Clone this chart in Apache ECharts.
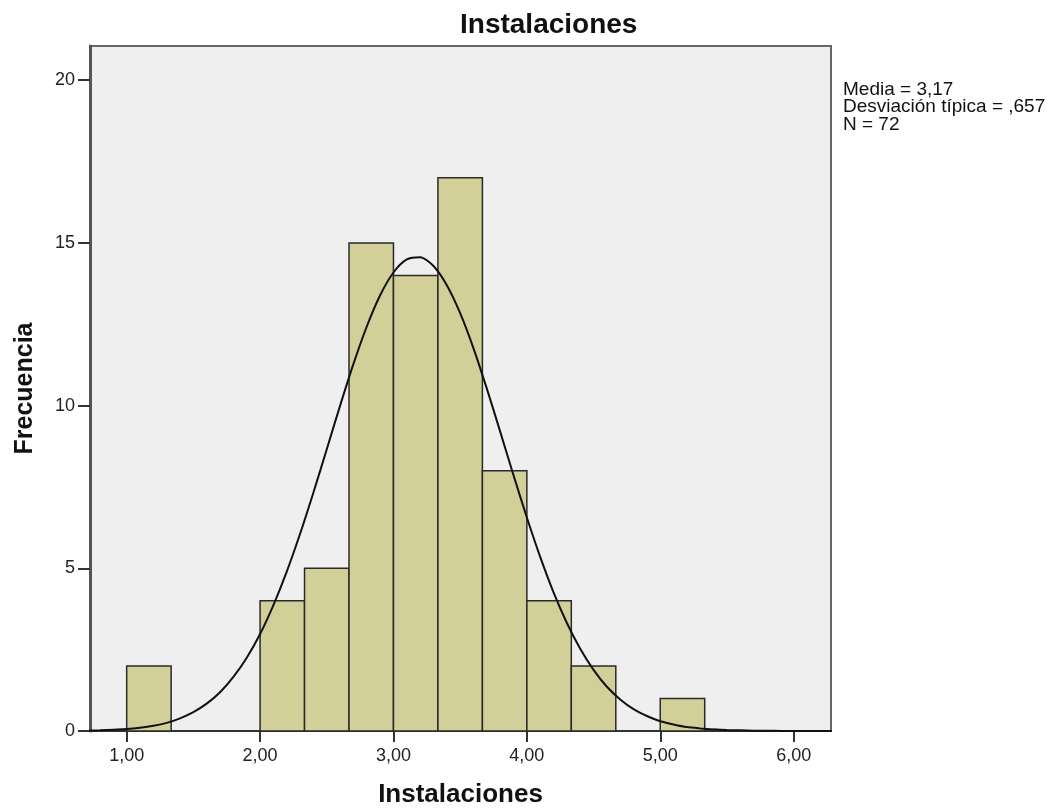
<!DOCTYPE html>
<html>
<head>
<meta charset="utf-8">
<script src="https://cdn.jsdelivr.net/npm/echarts@6/dist/echarts.min.js"></script>
<style>
html,body{margin:0;padding:0;background:#fff;}
#chart{width:1056px;height:808px;}
</style>
</head>
<body>
<div id="chart"></div>
<script>
// Histogram bins (bin width 1/3)
const binStarts = [1.0, 2.0, 2.3333, 2.6667, 3.0, 3.3333, 3.6667, 4.0, 4.3333, 5.0];
const binEnds   = [1.3333, 2.3333, 2.6667, 3.0, 3.3333, 3.6667, 4.0, 4.3333, 4.6667, 5.3333];
const counts    = [2, 4, 5, 15, 14, 17, 8, 4, 2, 1];

// Normal curve
const curveX = [0.7,0.8,0.9,1.0,1.1,1.2,1.3,1.4,1.5,1.6,1.7,1.8,1.9,2.0,2.1,2.2,2.3,2.4,2.5,2.6,2.7,2.8,2.9,3.0,3.1,3.2,3.3,3.4,3.5,3.6,3.7,3.8,3.9,4.0,4.1,4.2,4.3,4.4,4.5,4.6,4.7,4.8,4.9,5.0,5.1,5.2,5.3,5.4,5.5,5.6,5.7,5.8,5.9,6.0,6.1,6.2,6.3];
const curveY = [0.01,0.02,0.04,0.06,0.10,0.16,0.25,0.39,0.58,0.84,1.19,1.66,2.25,2.98,3.87,4.90,6.06,7.33,8.66,10.00,11.28,12.43,13.39,14.09,14.49,14.56,14.29,13.70,12.84,11.76,10.52,9.20,7.86,6.56,5.35,4.26,3.32,2.53,1.88,1.36,0.97,0.67,0.46,0.30,0.20,0.12,0.08,0.05,0.03,0.02,0.01,0.005,0.003,0.001,0.001,0,0];

const xTicks = [1, 2, 3, 4, 5, 6];
const yTicks = [0, 5, 10, 15, 20];
const statLines = ['Media = 3,17', 'Desviación típica = ,657', 'N = 72'];

const FONT = '"Liberation Sans", Arial, sans-serif';
const chart = echarts.init(document.getElementById('chart'), null, {renderer: 'canvas'});

const barData = binStarts.map((s, i) => [s, binEnds[i], counts[i]]);
const curveData = curveX.map((x, i) => [x, curveY[i]]);

chart.setOption({
  animation: false,
  backgroundColor: '#ffffff',
  title: {
    text: 'Instalaciones',
    left: 455, top: 6,
    textStyle: {fontFamily: FONT, fontSize: 28, fontWeight: 'bold', color: '#111'}
  },
  grid: {
    left: 90, right: 225, top: 46, bottom: 77,
    outerBoundsMode: 'none', containLabel: false,
    show: true, backgroundColor: '#efefef', borderColor: '#666', borderWidth: 2
  },
  xAxis: {
    type: 'value', min: 0.725, max: 6.28,
    name: 'Instalaciones', nameLocation: 'middle', nameGap: 51,
    nameTextStyle: {fontFamily: FONT, fontSize: 26, fontWeight: 'bold', color: '#111'},
    axisLine: {show: true, onZero: false, lineStyle: {color: '#333', width: 2}},
    axisTick: {show: true, length: 11, customValues: xTicks, lineStyle: {color: '#333', width: 2}},
    axisLabel: {show: true, customValues: xTicks, margin: 16, fontFamily: FONT, fontSize: 18, color: '#222',
      formatter: v => v.toFixed(2).replace('.', ',')},
    splitLine: {show: false}
  },
  yAxis: {
    type: 'value', min: 0, max: 21.05, interval: 5,
    name: 'Frecuencia', nameLocation: 'middle', nameGap: 52,
    nameTextStyle: {fontFamily: FONT, fontSize: 25, fontWeight: 'bold', color: '#111'},
    axisLine: {show: true, lineStyle: {color: '#555', width: 3}},
    axisTick: {show: true, length: 12, customValues: yTicks, lineStyle: {color: '#333', width: 2}},
    axisLabel: {show: true, customValues: yTicks, margin: 15, fontFamily: FONT, fontSize: 18, color: '#222'},
    splitLine: {show: false}
  },
  graphic: statLines.map((t, i) => ({
    type: 'text', left: 843, top: [80, 97, 115][i],
    style: {text: t, fontFamily: FONT, fontSize: 19, fill: '#111'}
  })),
  series: [
    {
      type: 'custom',
      data: barData,
      encode: {x: [0, 1], y: 2},
      renderItem: (params, api) => {
        const p0 = api.coord([api.value(0), 0]);
        const p1 = api.coord([api.value(1), api.value(2)]);
        return {
          type: 'rect',
          shape: {x: p0[0], y: p1[1], width: p1[0] - p0[0], height: p0[1] - p1[1]},
          style: {fill: '#d3cf98', stroke: '#2a2a2a', lineWidth: 1.5}
        };
      },
      z: 2
    },
    {
      type: 'line',
      data: curveData,
      smooth: 0.25,
      showSymbol: false,
      clip: true,
      lineStyle: {color: '#111', width: 2},
      z: 3
    }
  ]
});
</script>
</body>
</html>
